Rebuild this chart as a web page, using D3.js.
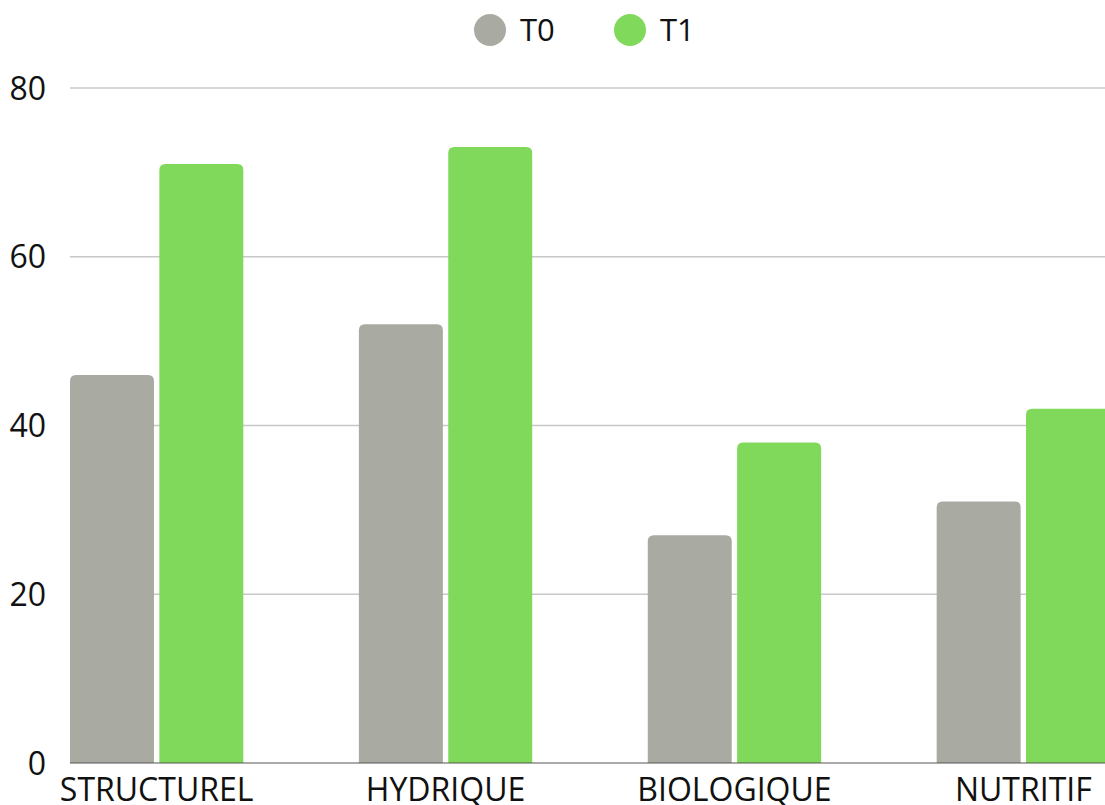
<!DOCTYPE html>
<html><head><meta charset="utf-8">
<script src="https://cdn.jsdelivr.net/npm/d3@7"></script>
<style>html,body{margin:0;padding:0;background:#fff;overflow:hidden}</style>
</head><body>
<svg id="c" width="1105" height="805"></svg>
<script>
const categories = ["STRUCTUREL", "HYDRIQUE", "BIOLOGIQUE", "NUTRITIF"];
const seriesNames = ["T0", "T1"];
const t0Values = [46, 52, 27, 31];
const t1Values = [71, 73, 38, 42];
const yTicks = [0, 20, 40, 60, 80];
const colors = ["#a9aba2", "#80d95b"];

(function () {
const svg = d3.select("#c");
const font = "'Open Sans', 'Noto Sans', sans-serif";
const mLeft = 70, mRight = 1110, mTop = 88, mBottom = 763;

const x = d3.scaleBand().domain(categories).range([mLeft, mRight]).paddingInner(0.4).paddingOuter(0);
const xi = d3.scaleBand().domain(seriesNames).range([0, x.bandwidth()]).paddingInner(0.06);
const y = d3.scaleLinear().domain([0, 80]).range([mBottom, mTop]);

svg.append("g").selectAll("line").data(yTicks.filter(d => d > 0)).join("line")
  .attr("x1", mLeft).attr("x2", 1105)
  .attr("y1", d => y(d)).attr("y2", d => y(d))
  .attr("stroke", "#c8c8c8").attr("stroke-width", 1.5);

svg.append("g").selectAll("text").data(yTicks).join("text")
  .attr("x", 46).attr("y", d => y(d)).attr("dy", "0.36em")
  .attr("text-anchor", "end").attr("font-family", font).attr("font-size", 32).attr("fill", "#111")
  .text(d => d);

const rows = categories.map((c, i) => ({cat: c, vals: [t0Values[i], t1Values[i]]}));
function topRounded(x0, y0, w, h, r) {
  r = Math.min(r, w / 2, h);
  return `M${x0},${y0 + h}V${y0 + r}Q${x0},${y0} ${x0 + r},${y0}H${x0 + w - r}Q${x0 + w},${y0} ${x0 + w},${y0 + r}V${y0 + h}Z`;
}
const g = svg.append("g");
rows.forEach(r => {
  r.vals.forEach((v, j) => {
    const bx = x(r.cat) + xi(seriesNames[j]);
    g.append("path")
      .attr("d", topRounded(bx, y(v), xi.bandwidth(), y(0) - y(v), 6))
      .attr("fill", colors[j]);
  });
});

svg.append("line").attr("x1", mLeft).attr("x2", 1105).attr("y1", mBottom).attr("y2", mBottom)
  .attr("stroke", "#555").attr("stroke-width", 1.2);

svg.append("g").selectAll("text").data(categories).join("text")
  .attr("x", d => x(d) + x.bandwidth() / 2).attr("y", 801)
  .attr("text-anchor", "middle").attr("font-family", font).attr("font-size", 32).attr("fill", "#111")
  .text(d => d);

const legX = [490, 630];
seriesNames.forEach((s, i) => {
  svg.append("circle").attr("cx", legX[i]).attr("cy", 30).attr("r", 16).attr("fill", colors[i]);
  svg.append("text").attr("x", legX[i] + 30).attr("y", 30).attr("dy", "0.36em")
    .attr("font-family", font).attr("font-size", 31).attr("fill", "#111").text(s);
});
})();
</script>
</body></html>
